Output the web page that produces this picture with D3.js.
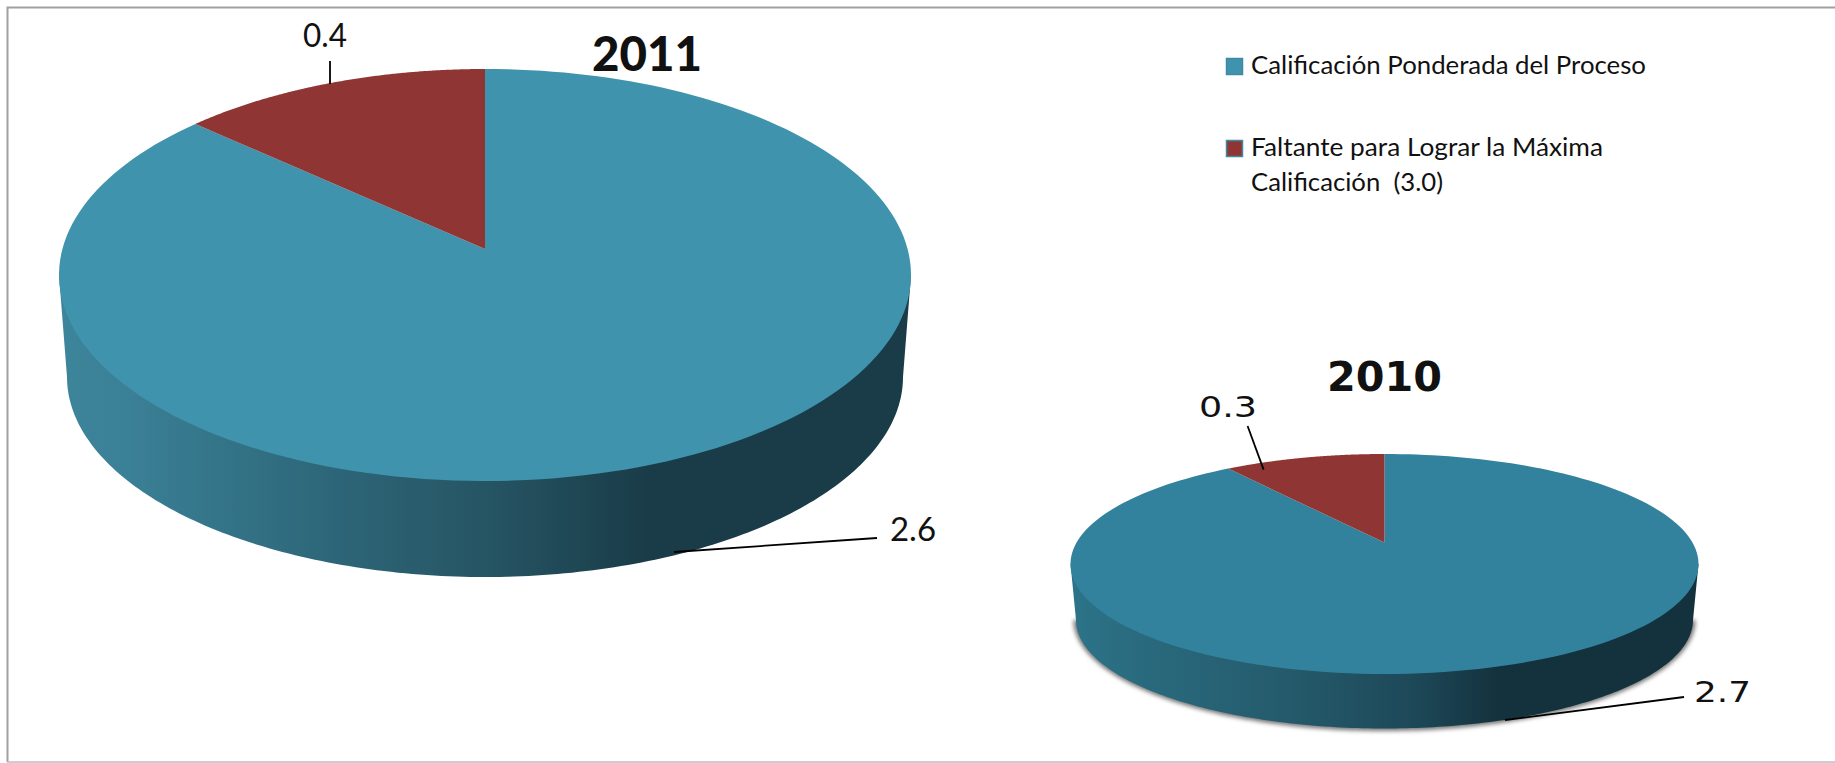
<!DOCTYPE html>
<html>
<head>
<meta charset="utf-8">
<script src="https://cdn.jsdelivr.net/npm/d3@7"></script>
<style>
  html, body { margin: 0; padding: 0; background: #fff; }
  svg { display: block; }
  text { font-family: Lato, Carlito, sans-serif; fill: #111; white-space: pre; }
</style>
</head>
<body>
<div id="chart"></div>
<script>
// data
var categories = ["Calificación Ponderada del Proceso", "Faltante para Lograr la Máxima Calificación  (3.0)"];
var values2011 = [2.6, 0.4];
var values2010 = [2.7, 0.3];
var years = ["2011", "2010"];

// set up layout
var width = 1835, height = 763;

var svg = d3.select("#chart").append("svg")
    .attr("width", width)
    .attr("height", height);

var defs = svg.append("defs");

// soft grey shadow under the 2010 pie
defs.append("filter").attr("id", "soft")
    .attr("x", "-5%").attr("y", "-5%").attr("width", "110%").attr("height", "115%")
    .append("feGaussianBlur").attr("stdDeviation", 2);

// frame
svg.append("path")
    .attr("d", "M1835,7.5H7.5V762")
    .attr("fill", "none")
    .attr("stroke", "#a0a0a0")
    .attr("stroke-width", 2);
svg.append("path")
    .attr("d", "M7,762H1835")
    .attr("fill", "none")
    .attr("stroke", "#bdbdbd")
    .attr("stroke-width", 1.5);

// side gradient, left to right
function sideGradient(id, stops) {
    var g = defs.append("linearGradient").attr("id", id)
        .attr("x1", 0).attr("x2", 1).attr("y1", 0).attr("y2", 0);
    stops.forEach(function (s) {
        g.append("stop").attr("offset", s[0]).attr("stop-color", s[1]);
    });
}
sideGradient("side2011", [[0, "#3d859b"], [0.08, "#3a8096"], [0.3, "#2e687b"], [0.5, "#265564"], [0.69, "#1a3c48"], [1, "#1a3c48"]]);
sideGradient("side2010", [[0, "#2c7489"], [0.1, "#2a6b7f"], [0.35, "#245a6b"], [0.55, "#1d4858"], [0.68, "#14323d"], [1, "#14323d"]]);

var pie = d3.pie().sort(null);

// draw one perspective pie: the apex sits above the middle of the top ellipse
function drawPie(values, o) {
    var g = svg.append("g");

    var k2 = 1 - o.k * o.k,
        sx = o.rx * Math.sqrt(k2),
        sy = o.ry * k2,
        apexY = o.cy - o.k * o.ry;

    var x = d3.scaleLinear().domain([-1, 1]).range([o.cx - sx, o.cx + sx]),
        y = d3.scaleLinear().domain([-1, 1]).range([apexY - sy, apexY + sy]);

    // polar angle on the flat disc -> point in the picture
    function project(a, r) {
        var u = r * Math.sin(a),
            v = -r * Math.cos(a),
            w = 1 - o.k * v;
        return [x(u / w), y(v / w)];
    }

    var line = d3.line().curve(d3.curveLinear);

    function rim(a0, a1) {
        return d3.range(0, 181).map(function (i) {
            return project(a0 + (a1 - a0) * i / 180, 1);
        });
    }

    // lower half of the bottom ellipse
    function lower(grow) {
        return d3.range(0, 181).map(function (i) {
            var t = Math.PI * i / 180;
            return [o.cx - (o.rx2 + grow) * Math.cos(t), o.cy2 + (o.ry2 + grow) * Math.sin(t)];
        });
    }
    var wall = [[o.cx - o.rx, o.cy]].concat(lower(0), [[o.cx + o.rx, o.cy]]);

    if (o.shadow) {
        g.append("path")
            .attr("d", line(lower(2.5)) + "Z")
            .attr("fill", "#777")
            .attr("filter", "url(#soft)");
    }

    g.append("path")
        .attr("d", line(wall) + "Z")
        .attr("fill", "url(#" + o.gradient + ")");

    // top face
    g.selectAll(".slice")
        .data(pie(values))
        .enter().append("path")
        .attr("class", "slice")
        .attr("d", function (d) {
            return line([project(0, 0)].concat(rim(d.startAngle, d.endAngle))) + "Z";
        })
        .attr("fill", function (d, i) { return i == 0 ? o.topColor : "#8f3634"; });
}

drawPie(values2011, { cx: 485, cy: 275, rx: 426, ry: 206, k: 0.126, rx2: 418, cy2: 377, ry2: 200,
    gradient: "side2011", topColor: "#4093ad" });
drawPie(values2010, { cx: 1384.5, cy: 564, rx: 314, ry: 110, k: 0.195, rx2: 308.5, cy2: 620, ry2: 108.5,
    gradient: "side2010", topColor: "#32829d", shadow: true });

// leader lines
var leaders = [
    [[330, 61], [330, 84]],
    [[674, 552], [877, 538]],
    [[1247.6, 426], [1263.6, 469.6]],
    [[1505, 720], [1684, 697]]
];
svg.selectAll(".leader")
    .data(leaders)
    .enter().append("path")
    .attr("class", "leader")
    .attr("d", d3.line())
    .attr("stroke", "#000")
    .attr("stroke-width", 1.8)
    .attr("fill", "none");

// labels
function label(x, y, str, size, len, family, weight) {
    var t = svg.append("text")
        .attr("x", x)
        .attr("y", y)
        .style("font-size", size + "px")
        .attr("textLength", len)
        .attr("lengthAdjust", "spacingAndGlyphs")
        .text(str);
    if (family) t.style("font-family", family);
    if (weight) t.style("font-weight", weight);
}

label(592, 71, years[0], 48, 110, null, 900);
label(1327, 391, years[1], 41, 115, "'DejaVu Sans'", 700);
label(303, 47, d3.format(".1f")(values2011[1]), 32, 44);
label(890, 541, d3.format(".1f")(values2011[0]), 32, 46);
label(1199, 417, d3.format(".1f")(values2010[1]), 29, 58, "'DejaVu Sans'");
label(1694, 702, d3.format(".1f")(values2010[0]), 29, 57, "'DejaVu Sans'");

// legend
var swatchColors = ["#4093ad", "#8f3634"];
var legendRows = [
    { y: 58, lines: [[categories[0], 395]] },
    { y: 140, lines: [["Faltante para Lograr la Máxima", 352], ["Calificación  (3.0)", 192]] }
];
var legend = svg.selectAll(".legend")
    .data(legendRows)
    .enter().append("g")
    .attr("class", "legend");

legend.append("rect")
    .attr("x", 1226.5)
    .attr("y", function (d) { return d.y + 0.5; })
    .attr("width", 16)
    .attr("height", 16)
    .attr("fill", function (d, i) { return swatchColors[i]; })
    .attr("stroke", "#3d8aa3")
    .attr("stroke-width", 1.5);

legend.each(function (d) {
    var row = d3.select(this);
    d.lines.forEach(function (l, i) {
        row.append("text")
            .attr("x", 1251)
            .attr("y", d.y + 15.5 + i * 35)
            .attr("textLength", l[1])
            .attr("lengthAdjust", "spacingAndGlyphs")
            .style("font-size", "24.5px")
            .text(l[0]);
    });
});
</script>
</body>
</html>
